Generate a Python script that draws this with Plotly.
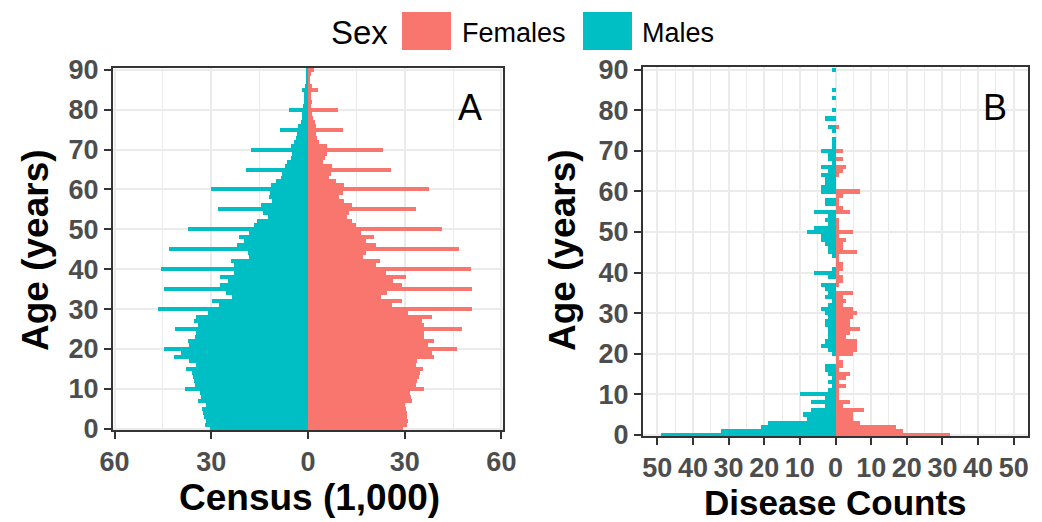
import plotly.graph_objects as go

ages = list(range(0, 91))

census_males = [30.5, 32.0, 31.8, 32.3, 32.5, 32.8, 31.8, 34.1, 33.3, 33.5,
                38.2, 35.1, 35.4, 35.6, 35.9, 37.8, 34.9, 36.9, 41.6, 39.5,
                44.7, 36.9, 37.2, 35.1, 34.9, 41.3, 34.0, 35.4, 34.7, 30.9,
                46.6, 27.6, 29.9, 23.5, 25.3, 44.7, 27.4, 24.7, 27.4, 23.0,
                45.7, 23.0, 24.0, 18.3, 18.5, 43.1, 21.9, 19.9, 21.4, 18.3,
                37.1, 16.7, 15.7, 12.4, 14.0, 28.0, 14.7, 11.3, 12.1, 11.9,
                30.2, 11.6, 10.0, 8.5, 8.0, 19.1, 7.2, 6.4, 5.4, 5.0,
                17.6, 5.4, 4.2, 3.8, 3.3, 8.6, 3.0, 2.2, 2.0, 1.8,
                5.9, 1.4, 1.3, 1.2, 1.1, 2.0, 0.8, 0.7, 0.6, 0.6,
                0.7]

census_females = [29.5, 30.8, 31.1, 30.6, 30.6, 30.3, 30.1, 32.4, 31.9, 31.6,
                  36.0, 33.4, 33.9, 34.4, 34.7, 35.7, 33.4, 33.9, 39.2, 38.4,
                  46.3, 37.3, 39.0, 36.0, 36.0, 47.9, 36.0, 35.5, 38.4, 31.1,
                  51.0, 26.2, 29.3, 22.8, 24.6, 51.0, 29.3, 26.4, 30.5, 24.1,
                  50.5, 21.2, 22.3, 17.1, 17.9, 46.9, 21.0, 17.9, 20.5, 16.3,
                  41.5, 14.8, 13.8, 12.2, 12.7, 33.4, 13.8, 11.2, 9.6, 10.9,
                  37.6, 11.2, 8.6, 6.5, 7.0, 25.9, 7.3, 4.8, 5.3, 5.8,
                  23.4, 6.0, 3.4, 2.9, 2.4, 10.9, 2.4, 2.1, 1.6, 1.3,
                  9.2, 0.9, 1.1, 0.9, 0.8, 3.2, 1.3, 0.7, 0.7, 0.8,
                  1.9]

disease_males = [49, 32, 21, 19, 8, 9, 7, 3, 7, 3,
                 10, 2, 1, 2, 1, 2, 3, 3, 0, 0,
                 1, 2, 4, 3, 2, 2, 2, 3, 3, 2,
                 3, 4, 2, 1, 3, 2, 3, 4, 0, 2,
                 6, 1, 0, 0, 1, 2, 2, 3, 4, 4,
                 8, 6, 2, 3, 2, 6, 0, 3, 3, 0,
                 4, 4, 3, 3, 4, 2, 4, 1, 2, 2,
                 4, 1, 1, 1, 0, 1, 2, 0, 3, 0,
                 1, 0, 0, 1, 0, 1, 0, 0, 0, 0,
                 1]

disease_females = [32, 19, 17, 7, 5, 5, 8, 2, 4, 1,
                   1, 1, 3, 1, 3, 4, 1, 2, 2, 1,
                   5, 6, 6, 6, 3, 4, 7, 4, 4, 5,
                   6, 5, 2, 3, 2, 5, 0, 1, 2, 2,
                   1, 2, 2, 1, 1, 6, 2, 2, 3, 1,
                   5, 1, 1, 1, 0, 4, 2, 1, 1, 2,
                   7, 0, 0, 0, 1, 2, 3, 0, 2, 0,
                   2, 0, 0, 0, 0, 0, 1, 0, 0, 0,
                   0, 0, 0, 0, 0, 0, 0, 0, 0, 0,
                   0]

census_ticks = [-60, -30, 0, 30, 60]
census_ticktext = ["60", "30", "0", "30", "60"]
disease_ticks = [-50, -40, -30, -20, -10, 0, 10, 20, 30, 40, 50]
disease_ticktext = ["50", "40", "30", "20", "10", "0", "10", "20", "30", "40", "50"]
age_ticks = [0, 10, 20, 30, 40, 50, 60, 70, 80, 90]

FEMALE = "#F8766D"
MALE = "#00BFC4"
FONT = "Liberation Sans"
W, H = 1042, 522


def px(x):
    return x / W


def py(y):
    return 1 - y / H


fig = go.Figure()
fig.add_trace(go.Bar(y=ages, x=census_females, orientation="h", name="Females",
                     marker=dict(color=FEMALE, line=dict(width=0)), width=1,
                     xaxis="x", yaxis="y", showlegend=False))
fig.add_trace(go.Bar(y=ages, x=[-v for v in census_males], orientation="h", name="Males",
                     marker=dict(color=MALE, line=dict(width=0)), width=1,
                     xaxis="x", yaxis="y", showlegend=False))
fig.add_trace(go.Bar(y=ages, x=disease_females, orientation="h", name="Females",
                     marker=dict(color=FEMALE, line=dict(width=0)), width=1,
                     xaxis="x2", yaxis="y2", showlegend=False))
fig.add_trace(go.Bar(y=ages, x=[-v for v in disease_males], orientation="h", name="Males",
                     marker=dict(color=MALE, line=dict(width=0)), width=1,
                     xaxis="x2", yaxis="y2", showlegend=False))

tickfont = dict(family=FONT, size=27, color="#4D4D4D", weight="bold")
common = dict(showline=True, linecolor="#333333", linewidth=2, mirror=True,
              ticks="outside", ticklen=7, tickwidth=2, tickcolor="#333333",
              showgrid=True, gridcolor="#EBEBEB", gridwidth=2, zeroline=False,
              tickfont=tickfont, automargin=False)

fig.update_layout(
    width=W, height=H,
    margin=dict(l=0, r=0, t=0, b=0, pad=0),
    paper_bgcolor="white", plot_bgcolor="white",
    barmode="relative", bargap=0,
    showlegend=False,
    xaxis=dict(domain=[px(113), px(503)], range=[-60.5, 60.5], anchor="y",
               tickmode="array", tickvals=census_ticks, ticktext=census_ticktext,
               minor=dict(tickvals=[-45, -15, 15, 45], showgrid=True,
                          gridcolor="#EBEBEB", gridwidth=1, ticks=""),
               **common),
    yaxis=dict(domain=[py(430), py(68)], range=[-0.3, 90.45], anchor="x",
               tickmode="array", tickvals=age_ticks, **common),
    xaxis2=dict(domain=[px(643), px(1028)], range=[-54, 54], anchor="y2",
                tickmode="array", tickvals=disease_ticks, ticktext=disease_ticktext,
                minor=dict(tickvals=[-45, -35, -25, -15, -5, 5, 15, 25, 35, 45],
                           showgrid=True, gridcolor="#EBEBEB", gridwidth=1, ticks=""),
                **common),
    yaxis2=dict(domain=[py(436), py(67)], range=[-0.3, 90.7], anchor="x2",
                tickmode="array", tickvals=age_ticks, **common),
)

title_font = dict(family=FONT, size=37, color="black", weight="bold")
ann = [
    dict(text="Age (years)", x=px(35), y=py(250), textangle=-90, font=title_font),
    dict(text="Age (years)", x=px(562), y=py(250), textangle=-90, font=title_font),
    dict(text="Census (1,000)", x=px(309), y=py(497), font=title_font),
    dict(text="Disease Counts", x=px(835), y=py(502), font=dict(title_font, size=35)),
    dict(text="A", x=px(470), y=py(108), font=dict(family=FONT, size=36, color="black")),
    dict(text="B", x=px(995), y=py(108), font=dict(family=FONT, size=36, color="black")),
    dict(text="Sex", x=px(359), y=py(33), font=dict(family=FONT, size=33, color="black")),
    dict(text="Females", x=px(460), y=py(33), xanchor="left",
         font=dict(family=FONT, size=27, color="black")),
    dict(text="Males", x=px(640), y=py(33), xanchor="left",
         font=dict(family=FONT, size=27, color="black")),
]
for a in ann:
    a.setdefault("xanchor", "center")
    a.update(xref="paper", yref="paper", yanchor="middle", showarrow=False)
fig.update_layout(annotations=ann)

fig.update_layout(shapes=[
    dict(type="rect", xref="paper", yref="paper", x0=px(402), x1=px(451), y0=py(50), y1=py(12),
         fillcolor=FEMALE, line=dict(width=0)),
    dict(type="rect", xref="paper", yref="paper", x0=px(583), x1=px(632), y0=py(50), y1=py(12),
         fillcolor=MALE, line=dict(width=0)),
])

fig.write_html("out.html", config={"displayModeBar": False},
               post_script="document.body.style.margin='0px';document.body.style.overflow='hidden';")
